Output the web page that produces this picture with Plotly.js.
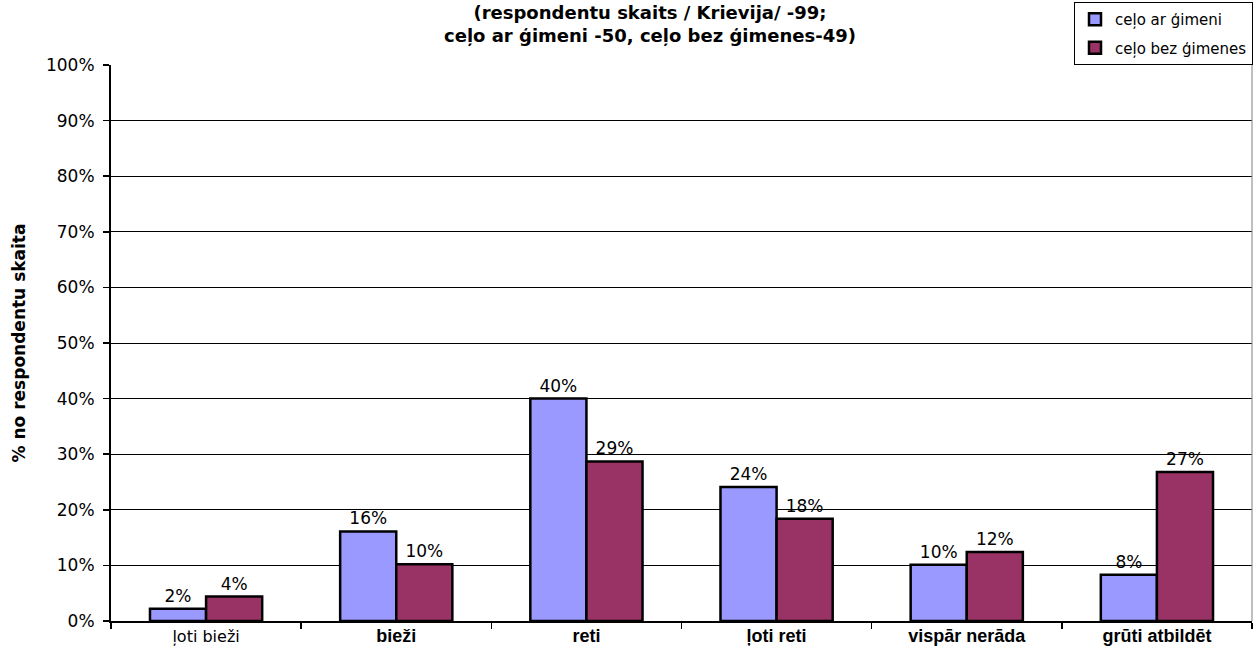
<!DOCTYPE html>
<html>
<head>
<meta charset="utf-8">
<script src="https://cdn.plot.ly/plotly-3.0.1.min.js"></script>
<style>html,body{margin:0;padding:0;background:#fff;}#chart{width:1256px;height:660px;}</style>
</head>
<body>
<div id="chart"></div>
<script>
const categories = ["ļoti bieži", "bieži", "reti", "ļoti reti", "vispār nerāda", "grūti atbildēt"];
const boldCategory = [false, true, true, true, true, true];
const seriesNames = ["ceļo ar ģimeni", "ceļo bez ģimenes"];
const withFamily = [2.2, 16.1, 40.0, 24.1, 10.1, 8.3];
const withoutFamily = [4.4, 10.2, 28.7, 18.4, 12.4, 26.8];
const yTickVals = [0, 10, 20, 30, 40, 50, 60, 70, 80, 90, 100];
const yTickText = ["0%", "10%", "20%", "30%", "40%", "50%", "60%", "70%", "80%", "90%", "100%"];

const categoryText = categories.map((c, i) => boldCategory[i]
  ? '<span style="font-family:Liberation Sans, Arial, sans-serif;font-size:18px;font-weight:bold">' + c + '</span>'
  : c);

const labelFont = {family: "DejaVu Sans, Verdana, sans-serif", size: 17, color: "#000"};
const labelTemplate = '%{y:.0f}%';

const traces = [
  {type: "bar", x: categories, y: withFamily, name: seriesNames[0], legendgroup: "a",
   marker: {color: "#9999FF", line: {color: "#000", width: 2.5}},
   texttemplate: labelTemplate, textposition: "outside", textfont: labelFont, cliponaxis: false, hoverinfo: "none"},
  {type: "bar", x: categories, y: withoutFamily, name: seriesNames[1], legendgroup: "b",
   marker: {color: "#993366", line: {color: "#000", width: 2.5}},
   texttemplate: labelTemplate, textposition: "outside", textfont: labelFont, cliponaxis: false, hoverinfo: "none"}
];

const layout = {
  width: 1256, height: 660,
  margin: {l: 111, r: 4, t: 65, b: 39, autoexpand: false},
  paper_bgcolor: "#fff", plot_bgcolor: "#fff",
  barmode: "group", bargap: 0.41, bargroupgap: 0,
  showlegend: true,
  title: {
    text: "<b>(respondentu skaits / Krievija/ -99;<br>ceļo ar ģimeni -50, ceļo bez ģimenes-49)</b>",
    font: {family: "DejaVu Sans, Verdana, sans-serif", size: 18, color: "#000"},
    x: 650/1256, xref: "container", xanchor: "center",
    y: 1 - 19/660, yref: "container", yanchor: "middle"
  },
  legend: {
    x: 1074/1256, y: 1 - 2/660, xref: "container", yref: "container",
    xanchor: "left", yanchor: "top",
    bordercolor: "#000", borderwidth: 1, bgcolor: "#fff",
    font: {family: "DejaVu Sans, Verdana, sans-serif", size: 15, color: "#000"},
    traceorder: "grouped", tracegroupgap: 6, itemwidth: 30
  },
  xaxis: {
    type: "category",
    tickvals: categories, ticktext: categoryText,
    tickfont: {family: "DejaVu Sans, Verdana, sans-serif", size: 16, color: "#000"},
    showline: true, linecolor: "#000", linewidth: 2,
    ticks: "outside", ticklen: 6, tickcolor: "#000", tickwidth: 1.5,
    tickson: "boundaries", showgrid: false, fixedrange: true
  },
  yaxis: {
    range: [0, 100], tickvals: yTickVals, ticktext: yTickText,
    tickfont: {family: "DejaVu Sans, Verdana, sans-serif", size: 17, color: "#000"},
    showline: true, linecolor: "#000", linewidth: 2,
    ticks: "outside", ticklen: 6, tickcolor: "#000", tickwidth: 1.5,
    ticklabelstandoff: 5,
    showgrid: true, gridcolor: "#000", gridwidth: 1, zeroline: false,
    title: {text: "<b>% no respondentu skaita</b>", font: {family: "DejaVu Sans, Verdana, sans-serif", size: 17, color: "#000"}, standoff: 16},
    fixedrange: true
  },
  shapes: [
    {type: "line", xref: "paper", yref: "paper", x0: 1, x1: 1, y0: 0, y1: 1, line: {color: "#808080", width: 1}}
  ]
};

Plotly.newPlot("chart", traces, layout, {displayModeBar: false, staticPlot: true});
</script>
</body>
</html>
